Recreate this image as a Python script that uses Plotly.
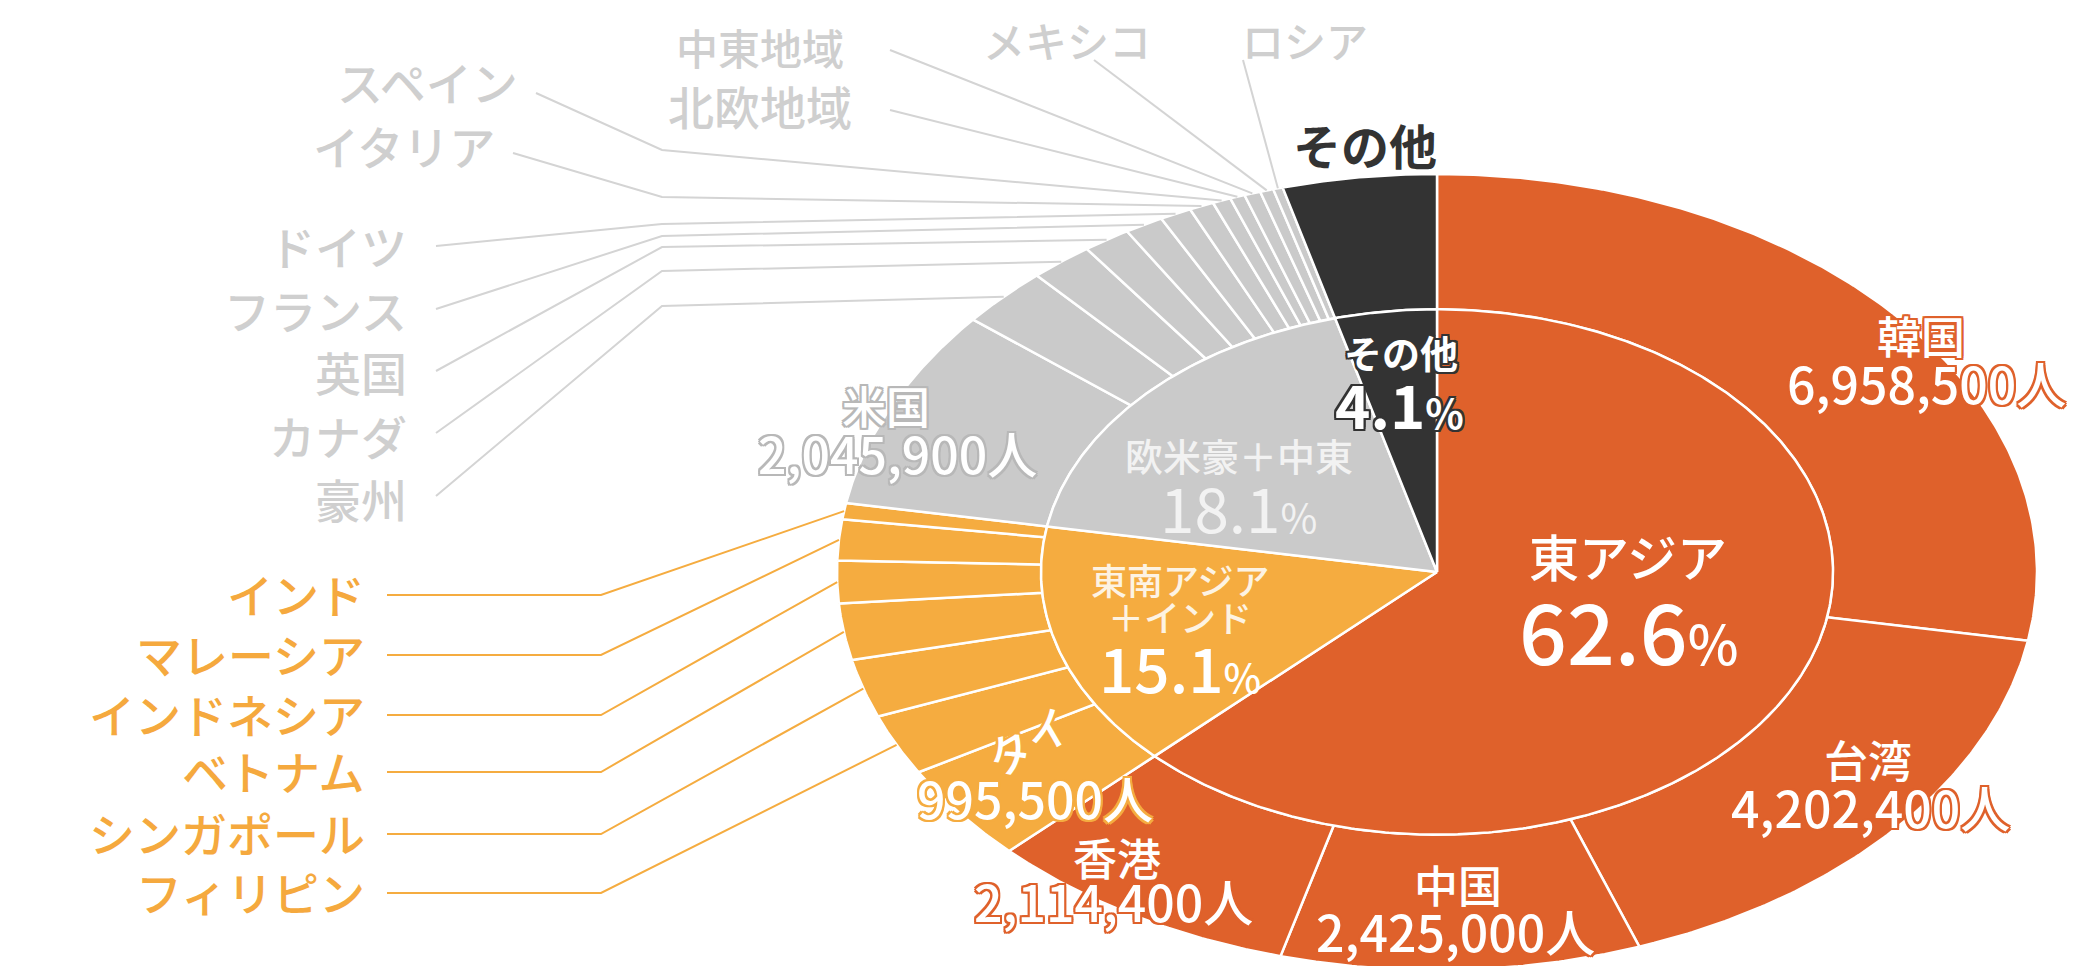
import numpy as np
import plotly.graph_objects as go

# visitor arrivals by market (persons), clockwise from 12 o'clock
outer_names = ['韓国', '台湾', '中国', '香港',
               'タイ', 'フィリピン', 'シンガポール', 'ベトナム', 'インドネシア', 'マレーシア', 'インド',
               '米国', '豪州', 'カナダ', '英国', 'フランス', 'ドイツ', 'イタリア', 'スペイン',
               '北欧地域', '中東地域', 'メキシコ', 'ロシア',
               'その他']
outer_values = [6958500, 4202400, 2425000, 2114400,
                995500, 622300, 591300, 574200, 430300, 415700, 165100,
                2045900, 613100, 425600, 320500, 261100, 213000, 165900, 123100,
                100000, 110000, 90000, 65000,
                1038200]
outer_group = [0] * 4 + [1] * 7 + [2] * 12 + [3]

inner_names = ['東アジア', '東南アジア＋インド', '欧米豪＋中東', 'その他']
group_colors = ['#DF612B', '#F5AC40', '#CACACA', '#333333']

FONT = 'Noto Sans CJK JP'
W, H = 2090, 966
CX, CY = 1429, 564      # pie centre in px
RX, RY = 600, 398       # outer radii (the chart is stretched horizontally)
R_IN = 0.66             # inner pie radius / ring inner edge

total = sum(outer_values)
inner_values = [sum(v for v, g in zip(outer_values, outer_group) if g == k) for k in range(4)]


def pt(theta, r):
    t = np.radians(theta)
    return CX + RX * r * np.sin(t), CY - RY * r * np.cos(t)


def outline(c, w=2):
    offs = [(-w, -w), (w, -w), (-w, w), (w, w), (0, w), (0, -w), (w, 0), (-w, 0)]
    return ', '.join('{}px {}px 0 {}'.format(dx, dy, c) for dx, dy in offs)


fig = go.Figure()

# outer ring
cum = np.concatenate([[0], np.cumsum(outer_values)]) / total * 360
mids = {}
for i, name in enumerate(outer_names):
    a0, a1 = cum[i], cum[i + 1]
    arc = np.linspace(a0, a1, max(int((a1 - a0) * 2) + 2, 3))
    xo, yo = pt(arc, 1.0)
    xi, yi = pt(arc[::-1], R_IN)
    xs = np.concatenate([xo, xi, xo[:1]])
    ys = np.concatenate([yo, yi, yo[:1]])
    fig.add_trace(go.Scatter(x=xs, y=ys, mode='lines', fill='toself',
                             fillcolor=group_colors[outer_group[i]],
                             line=dict(color='white', width=2.5),
                             hoverinfo='text', text='{} {:,}人'.format(name, outer_values[i])))
    mids[name] = (a0 + a1) / 2

# inner pie
icum = np.concatenate([[0], np.cumsum(inner_values)]) / total * 360
for k in range(4):
    a0, a1 = icum[k], icum[k + 1]
    arc = np.linspace(a0, a1, max(int((a1 - a0) * 2) + 2, 3))
    xa, ya = pt(arc, R_IN)
    xs = np.concatenate([[CX], xa, [CX]])
    ys = np.concatenate([[CY], ya, [CY]])
    fig.add_trace(go.Scatter(x=xs, y=ys, mode='lines', fill='toself',
                             fillcolor=group_colors[k],
                             line=dict(color='white', width=2.5),
                             hoverinfo='text', text=inner_names[k]))

# ---- leader lines + outside labels ----
GRAY_TXT = '#CFCFCF'
ORANGE_TXT = '#F5A93E'
SIDE = 46
annos = []


def label(text, x, y, color, size, anchor='center', **kw):
    d = dict(text=text, x=x, y=y, xref='x', yref='y', showarrow=False,
             xanchor=anchor, yanchor='middle', borderpad=0,
             font=dict(family=FONT, size=size, color=color, **kw.pop('font', {})))
    d.update(kw)
    annos.append(d)


# orange group: line y
orange_side = [('インド', 587), ('マレーシア', 647), ('インドネシア', 707),
               ('ベトナム', 764), ('シンガポール', 826), ('フィリピン', 885)]
for name, ly in orange_side:
    ex, ey = pt(mids[name], 1.0)
    fig.add_trace(go.Scatter(x=[379, 593, ex], y=[ly, ly, ey], mode='lines',
                             line=dict(color='#F5AC40', width=2), hoverinfo='skip'))
    label(name, 358, ly - 2, ORANGE_TXT, SIDE, anchor='right', font=dict(weight=500))

# gray group: label (right x, y), line start, bend
gray_side = [('豪州', 400, 490, (428, 488), (654, 298)),
             ('カナダ', 400, 427, (428, 425), (654, 263)),
             ('英国', 400, 363, (428, 363), (654, 239)),
             ('フランス', 400, 301, (428, 301), (654, 228)),
             ('ドイツ', 400, 237, (428, 238), (654, 216)),
             ('イタリア', 488, 137, (505, 145), (654, 189)),
             ('スペイン', 511, 73, (528, 85), (654, 142))]
for name, tx, ty, s, b in gray_side:
    ex, ey = pt(mids[name], 1.0)
    fig.add_trace(go.Scatter(x=[s[0], b[0], ex], y=[s[1], b[1], ey], mode='lines',
                             line=dict(color='#D4D4D4', width=2), hoverinfo='skip'))
    label(name, tx, ty, GRAY_TXT, SIDE, anchor='right', font=dict(weight=500))

top_side = [('北欧地域', 752, 97, (882, 102)),
            ('中東地域', 752, 38, (882, 42)),
            ('メキシコ', 1059, 31, (1086, 52)),
            ('ロシア', 1297, 31, (1235, 52))]
for name, tx, ty, s in top_side:
    ex, ey = pt(mids[name], 1.0)
    fig.add_trace(go.Scatter(x=[s[0], ex], y=[s[1], ey], mode='lines',
                             line=dict(color='#D4D4D4', width=2), hoverinfo='skip'))
    label(name, tx, ty, GRAY_TXT, 42 if ty < 40 else SIDE, font=dict(weight=500))

label('その他', 1357, 136, '#333333', 48, font=dict(weight=600))

# ---- labels inside the outer ring ----
in_ring = [('韓国', 1913, 327, 1918, 374, '#DF612B'),
           ('台湾', 1860, 751, 1862, 798, '#DF612B'),
           ('中国', 1450, 876, 1447, 922, '#DF612B'),
           ('香港', 1109, 849, 1105, 892, '#DF612B'),
           ('米国', 878, 397, 889, 444, '#B8B8B8')]
for name, nx, ny, vx, vy, oc in in_ring:
    v = outer_values[outer_names.index(name)]
    label(name, nx, ny, 'white', 44, font=dict(weight=500, shadow=outline(oc)))
    label('{:,}人'.format(v), vx, vy, 'white', 50, font=dict(weight=500, shadow=outline(oc)))

v_thai = outer_values[outer_names.index('タイ')]
label('タイ', 1020, 732, 'white', 44, textangle=-30,
      font=dict(weight=500, shadow=outline('#F5AC40')))
label('{:,}人'.format(v_thai), 1027, 789, 'white', 50,
      font=dict(weight=500, shadow=outline('#F5AC40')))

# ---- inner pie labels ----
pct = ['{:.1f}'.format(v / total * 100) for v in inner_values]
label(inner_names[0], 1620, 547, 'white', 50, font=dict(weight=500))
label(pct[0] + "<span style='font-size:54px'>%</span>", 1620, 620, 'white', 84,
      font=dict(weight=500))
label('東南アジア', 1172, 571, '#FDF3E3', 36, font=dict(weight=500))
label('＋インド', 1172, 608, '#FDF3E3', 36, font=dict(weight=500))
label(pct[1] + "<span style='font-size:40px'>%</span>", 1172, 658, 'white', 62,
      font=dict(weight=500))
label(inner_names[2], 1231, 446, '#F2F2F2', 38, font=dict(weight=500))
label(pct[2] + "<span style='font-size:40px'>%</span>", 1230, 498, '#F2F2F2', 62)
label(inner_names[3], 1393, 343, 'white', 38, font=dict(weight=700, shadow=outline('#333333')))
label(pct[3] + "<span style='font-size:40px'>%</span>", 1391, 394, 'white', 60,
      font=dict(weight=700, shadow=outline('#333333')))

fig.update_layout(
    width=W, height=H,
    margin=dict(l=0, r=0, t=0, b=0),
    paper_bgcolor='white', plot_bgcolor='white',
    showlegend=False,
    xaxis=dict(range=[0, W], visible=False, fixedrange=True),
    yaxis=dict(range=[H, 0], visible=False, fixedrange=True),
    annotations=annos,
)

fig.write_html('out.html')
